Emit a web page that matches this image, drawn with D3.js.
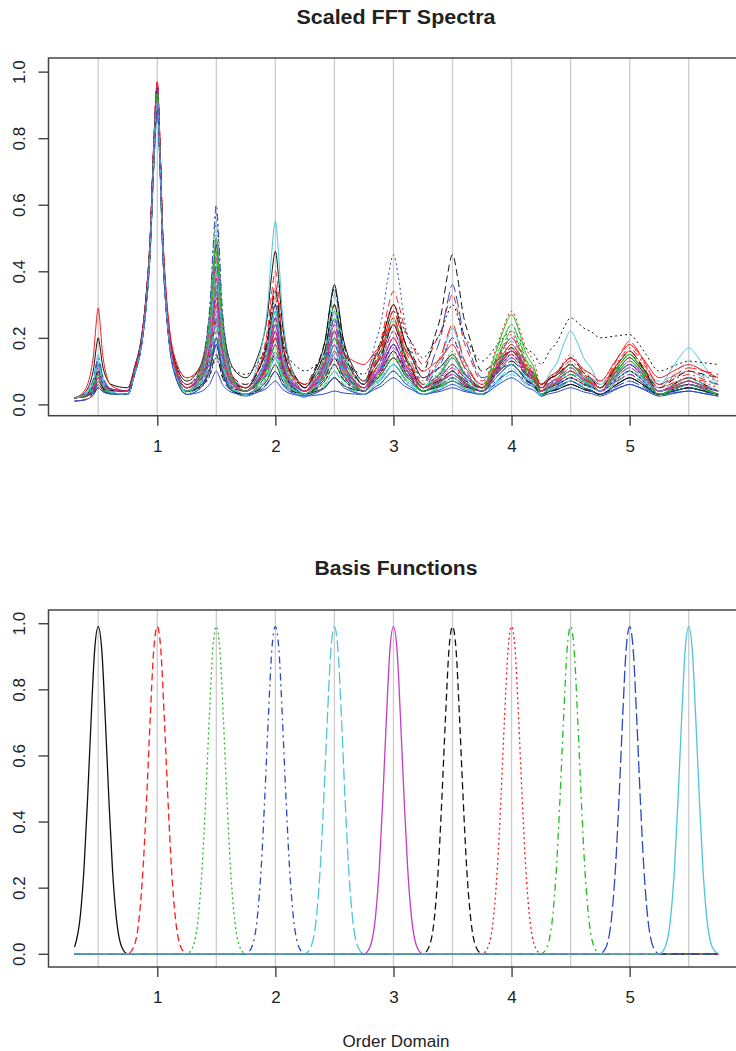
<!DOCTYPE html>
<html>
<head>
<meta charset="utf-8">
<script src="https://cdn.jsdelivr.net/npm/d3@7"></script>
<style>
  body { margin: 0; background: #fff; }
  text { font-family: "Liberation Sans", Arial, sans-serif; fill: #222; }
</style>
</head>
<body>
<svg id="chart" width="736" height="1051"></svg>
<script>
// orders where the peaks / basis functions sit, and the troughs between them
const orders = [0.5, 1, 1.5, 2, 2.5, 3, 3.5, 4, 4.5, 5, 5.5];
const troughOrders = [0.3, 0.75, 1.25, 1.75, 2.25, 2.75, 3.25, 3.75, 4.25, 4.75, 5.25, 5.75];
const xTicks = [1, 2, 3, 4, 5];
const yTicks = [0, 0.2, 0.4, 0.6, 0.8, 1];

// peak half widths (left / right)
const peakWidthLeft  = [0.038, 0.06, 0.05, 0.066, 0.072, 0.1, 0.094, 0.13, 0.11, 0.13, 0.13];
const peakWidthRight = [0.033, 0.046, 0.045, 0.056, 0.066, 0.094, 0.088, 0.12, 0.11, 0.13, 0.13];
// normalised peak profile (distance in half widths -> fraction of peak above the trough)
const peakShapeU = [0, 0.5, 1, 1.6, 2.3, 3.2];
const peakShapeF = [1, 0.8, 0.5, 0.3, 0.16, 0.07];

// peak height of each spectrum at each order
const spectraPeaks = [
  [0.20, 0.95, 0.48, 0.46, 0.36, 0.30, 0.15, 0.16, 0.12, 0.14, 0.06],
  [0.08, 0.97, 0.50, 0.40, 0.30, 0.34, 0.33, 0.20, 0.12, 0.16, 0.08],
  [0.12, 0.93, 0.55, 0.25, 0.28, 0.22, 0.12, 0.24, 0.10, 0.12, 0.07],
  [0.10, 0.96, 0.60, 0.30, 0.22, 0.20, 0.10, 0.14, 0.08, 0.10, 0.05],
  [0.15, 0.90, 0.42, 0.35, 0.33, 0.25, 0.12, 0.13, 0.10, 0.12, 0.10],
  [0.09, 0.92, 0.38, 0.22, 0.20, 0.18, 0.14, 0.18, 0.12, 0.10, 0.06],
  [0.06, 0.94, 0.35, 0.30, 0.35, 0.28, 0.45, 0.16, 0.12, 0.15, 0.10],
  [0.11, 0.95, 0.44, 0.32, 0.25, 0.30, 0.20, 0.28, 0.14, 0.18, 0.10],
  [0.07, 0.90, 0.30, 0.20, 0.18, 0.15, 0.10, 0.20, 0.08, 0.14, 0.06],
  [0.05, 0.93, 0.25, 0.18, 0.15, 0.24, 0.36, 0.12, 0.07, 0.08, 0.05],
  [0.06, 0.88, 0.28, 0.55, 0.26, 0.20, 0.23, 0.14, 0.22, 0.12, 0.17],
  [0.10, 0.91, 0.33, 0.26, 0.22, 0.20, 0.12, 0.17, 0.11, 0.11, 0.07],
  [0.09, 0.89, 0.32, 0.30, 0.20, 0.30, 0.30, 0.22, 0.26, 0.21, 0.13],
  [0.06, 0.96, 0.46, 0.20, 0.24, 0.22, 0.10, 0.15, 0.13, 0.17, 0.09],
  [0.08, 0.92, 0.40, 0.24, 0.30, 0.16, 0.14, 0.22, 0.10, 0.15, 0.07],
  [0.12, 0.94, 0.10, 0.07, 0.04, 0.08, 0.06, 0.10, 0.07, 0.06, 0.04],
  [0.14, 0.87, 0.36, 0.20, 0.18, 0.14, 0.09, 0.12, 0.09, 0.10, 0.13],
  [0.07, 0.93, 0.28, 0.18, 0.16, 0.22, 0.16, 0.20, 0.15, 0.13, 0.08],
  [0.13, 0.96, 0.20, 0.15, 0.12, 0.18, 0.08, 0.17, 0.10, 0.12, 0.06],
  [0.10, 0.91, 0.30, 0.36, 0.16, 0.28, 0.24, 0.18, 0.10, 0.19, 0.11],
  [0.10, 0.94, 0.50, 0.28, 0.22, 0.26, 0.15, 0.27, 0.12, 0.15, 0.08],
  [0.08, 0.90, 0.42, 0.24, 0.26, 0.18, 0.20, 0.12, 0.08, 0.10, 0.06],
  [0.11, 0.95, 0.52, 0.30, 0.24, 0.16, 0.12, 0.10, 0.09, 0.08, 0.06],
  [0.12, 0.90, 0.36, 0.20, 0.20, 0.17, 0.11, 0.20, 0.12, 0.12, 0.07],
  [0.05, 0.92, 0.26, 0.34, 0.30, 0.24, 0.10, 0.13, 0.14, 0.16, 0.08],
  [0.29, 0.97, 0.38, 0.26, 0.20, 0.24, 0.18, 0.16, 0.14, 0.18, 0.12],
  [0.06, 0.88, 0.22, 0.14, 0.10, 0.12, 0.07, 0.16, 0.07, 0.09, 0.05],
  [0.10, 0.95, 0.58, 0.30, 0.28, 0.45, 0.14, 0.16, 0.08, 0.12, 0.06],
  [0.09, 0.93, 0.30, 0.16, 0.12, 0.10, 0.08, 0.11, 0.06, 0.07, 0.05],
  [0.07, 0.89, 0.44, 0.22, 0.18, 0.20, 0.09, 0.15, 0.10, 0.13, 0.07],
  [0.08, 0.93, 0.18, 0.12, 0.08, 0.14, 0.07, 0.12, 0.06, 0.08, 0.05],
  [0.10, 0.95, 0.40, 0.20, 0.16, 0.16, 0.09, 0.14, 0.09, 0.11, 0.06],
  [0.06, 0.90, 0.24, 0.12, 0.14, 0.10, 0.07, 0.18, 0.07, 0.12, 0.06],
  [0.14, 0.92, 0.34, 0.26, 0.18, 0.14, 0.10, 0.10, 0.09, 0.09, 0.06],
  [0.08, 0.91, 0.20, 0.14, 0.10, 0.12, 0.07, 0.09, 0.08, 0.10, 0.07],
  [0.11, 0.96, 0.30, 0.24, 0.22, 0.16, 0.10, 0.16, 0.10, 0.12, 0.07],
  [0.07, 0.93, 0.15, 0.10, 0.14, 0.12, 0.08, 0.12, 0.06, 0.08, 0.05],
  [0.09, 0.94, 0.26, 0.18, 0.22, 0.20, 0.12, 0.21, 0.10, 0.16, 0.08],
  [0.10, 0.90, 0.36, 0.16, 0.12, 0.12, 0.08, 0.19, 0.09, 0.10, 0.06],
  [0.06, 0.89, 0.18, 0.22, 0.20, 0.18, 0.10, 0.10, 0.07, 0.07, 0.05],
  [0.12, 0.92, 0.40, 0.28, 0.16, 0.12, 0.14, 0.12, 0.10, 0.10, 0.06],
  [0.08, 0.93, 0.24, 0.16, 0.24, 0.14, 0.09, 0.14, 0.08, 0.09, 0.06],
  [0.10, 0.95, 0.14, 0.20, 0.12, 0.16, 0.10, 0.15, 0.08, 0.10, 0.06],
  [0.07, 0.91, 0.32, 0.22, 0.14, 0.26, 0.12, 0.17, 0.10, 0.14, 0.07],
  [0.09, 0.94, 0.46, 0.18, 0.20, 0.14, 0.10, 0.24, 0.11, 0.13, 0.06],
  [0.05, 0.90, 0.20, 0.10, 0.08, 0.10, 0.05, 0.08, 0.05, 0.06, 0.04],
  [0.13, 0.91, 0.26, 0.14, 0.20, 0.12, 0.08, 0.10, 0.07, 0.11, 0.08],
  [0.09, 0.92, 0.34, 0.20, 0.14, 0.18, 0.11, 0.16, 0.11, 0.11, 0.06]
];

// trough level of each spectrum between the peaks
const spectraTroughs = [
  [0.02, 0.05, 0.07, 0.08, 0.05, 0.07, 0.08, 0.05, 0.06, 0.04, 0.04, 0.03],
  [0.02, 0.04, 0.06, 0.05, 0.05, 0.06, 0.12, 0.07, 0.06, 0.06, 0.05, 0.06],
  [0.02, 0.04, 0.05, 0.04, 0.04, 0.05, 0.06, 0.05, 0.04, 0.05, 0.04, 0.04],
  [0.02, 0.03, 0.04, 0.04, 0.03, 0.04, 0.05, 0.04, 0.04, 0.04, 0.03, 0.03],
  [0.02, 0.04, 0.05, 0.05, 0.04, 0.05, 0.05, 0.05, 0.04, 0.05, 0.07, 0.06],
  [0.02, 0.03, 0.05, 0.04, 0.04, 0.05, 0.05, 0.05, 0.04, 0.04, 0.04, 0.04],
  [0.02, 0.04, 0.06, 0.06, 0.06, 0.06, 0.10, 0.10, 0.06, 0.05, 0.05, 0.08],
  [0.02, 0.04, 0.06, 0.05, 0.05, 0.06, 0.07, 0.06, 0.06, 0.07, 0.06, 0.07],
  [0.02, 0.03, 0.04, 0.04, 0.03, 0.04, 0.04, 0.04, 0.03, 0.04, 0.03, 0.03],
  [0.01, 0.03, 0.04, 0.03, 0.03, 0.04, 0.06, 0.08, 0.04, 0.03, 0.03, 0.03],
  [0.02, 0.03, 0.04, 0.04, 0.03, 0.04, 0.05, 0.05, 0.04, 0.06, 0.06, 0.06],
  [0.02, 0.04, 0.05, 0.05, 0.04, 0.05, 0.05, 0.05, 0.05, 0.05, 0.04, 0.04],
  [0.02, 0.04, 0.08, 0.09, 0.10, 0.09, 0.14, 0.13, 0.12, 0.20, 0.10, 0.12],
  [0.01, 0.04, 0.05, 0.04, 0.04, 0.05, 0.05, 0.05, 0.05, 0.05, 0.06, 0.06],
  [0.02, 0.03, 0.04, 0.04, 0.03, 0.04, 0.04, 0.04, 0.03, 0.04, 0.03, 0.03],
  [0.02, 0.03, 0.03, 0.03, 0.025, 0.03, 0.03, 0.03, 0.03, 0.03, 0.03, 0.025],
  [0.02, 0.04, 0.04, 0.04, 0.03, 0.04, 0.04, 0.04, 0.04, 0.07, 0.05, 0.05],
  [0.02, 0.03, 0.04, 0.04, 0.04, 0.05, 0.05, 0.05, 0.05, 0.05, 0.04, 0.04],
  [0.02, 0.04, 0.04, 0.04, 0.03, 0.04, 0.04, 0.04, 0.04, 0.04, 0.03, 0.03],
  [0.02, 0.04, 0.05, 0.05, 0.04, 0.05, 0.06, 0.05, 0.05, 0.05, 0.06, 0.09],
  [0.02, 0.04, 0.05, 0.04, 0.04, 0.05, 0.05, 0.05, 0.04, 0.05, 0.04, 0.04],
  [0.02, 0.03, 0.04, 0.04, 0.03, 0.04, 0.05, 0.04, 0.04, 0.04, 0.03, 0.03],
  [0.02, 0.03, 0.04, 0.04, 0.03, 0.04, 0.04, 0.04, 0.04, 0.04, 0.03, 0.03],
  [0.02, 0.04, 0.05, 0.04, 0.04, 0.05, 0.05, 0.05, 0.04, 0.04, 0.04, 0.04],
  [0.02, 0.04, 0.05, 0.05, 0.05, 0.06, 0.05, 0.05, 0.05, 0.05, 0.04, 0.04],
  [0.02, 0.04, 0.08, 0.05, 0.06, 0.12, 0.10, 0.06, 0.06, 0.07, 0.08, 0.08],
  [0.02, 0.03, 0.035, 0.03, 0.03, 0.03, 0.03, 0.03, 0.025, 0.03, 0.025, 0.025],
  [0.02, 0.04, 0.05, 0.04, 0.04, 0.06, 0.05, 0.05, 0.04, 0.04, 0.03, 0.03],
  [0.02, 0.03, 0.04, 0.03, 0.03, 0.03, 0.03, 0.03, 0.03, 0.03, 0.03, 0.03],
  [0.02, 0.04, 0.05, 0.04, 0.04, 0.04, 0.05, 0.04, 0.04, 0.04, 0.04, 0.04],
  [0.02, 0.03, 0.04, 0.03, 0.03, 0.04, 0.04, 0.04, 0.03, 0.03, 0.03, 0.03],
  [0.02, 0.04, 0.05, 0.04, 0.04, 0.04, 0.05, 0.04, 0.04, 0.04, 0.04, 0.04],
  [0.02, 0.03, 0.04, 0.03, 0.03, 0.03, 0.04, 0.03, 0.03, 0.03, 0.03, 0.03],
  [0.02, 0.04, 0.04, 0.04, 0.03, 0.04, 0.04, 0.04, 0.04, 0.04, 0.03, 0.03],
  [0.02, 0.03, 0.03, 0.03, 0.02, 0.03, 0.03, 0.03, 0.03, 0.04, 0.04, 0.04],
  [0.02, 0.04, 0.05, 0.04, 0.04, 0.05, 0.04, 0.04, 0.04, 0.04, 0.04, 0.04],
  [0.02, 0.04, 0.04, 0.03, 0.03, 0.04, 0.04, 0.04, 0.03, 0.03, 0.03, 0.03],
  [0.02, 0.04, 0.05, 0.04, 0.04, 0.05, 0.05, 0.05, 0.04, 0.05, 0.05, 0.05],
  [0.02, 0.03, 0.04, 0.03, 0.03, 0.04, 0.04, 0.04, 0.03, 0.04, 0.03, 0.03],
  [0.02, 0.03, 0.04, 0.04, 0.03, 0.04, 0.04, 0.03, 0.03, 0.03, 0.03, 0.03],
  [0.02, 0.03, 0.04, 0.04, 0.03, 0.04, 0.04, 0.04, 0.04, 0.04, 0.03, 0.04],
  [0.02, 0.04, 0.04, 0.04, 0.04, 0.04, 0.04, 0.04, 0.04, 0.04, 0.03, 0.03],
  [0.02, 0.04, 0.04, 0.04, 0.03, 0.04, 0.04, 0.04, 0.04, 0.04, 0.03, 0.04],
  [0.02, 0.04, 0.05, 0.04, 0.04, 0.05, 0.05, 0.05, 0.04, 0.05, 0.04, 0.04],
  [0.02, 0.03, 0.04, 0.04, 0.03, 0.04, 0.04, 0.04, 0.03, 0.04, 0.03, 0.03],
  [0.01, 0.03, 0.03, 0.025, 0.025, 0.03, 0.03, 0.03, 0.025, 0.025, 0.025, 0.025],
  [0.02, 0.03, 0.04, 0.03, 0.03, 0.03, 0.03, 0.03, 0.03, 0.04, 0.04, 0.04],
  [0.02, 0.04, 0.05, 0.04, 0.04, 0.04, 0.05, 0.04, 0.04, 0.04, 0.04, 0.04]
];

// basis function profile (offset from its centre -> value)
const basisOffsets = [-0.25, -0.2, -0.15, -0.12, -0.09, -0.06, -0.03, 0, 0.03, 0.06, 0.09, 0.12, 0.15, 0.2, 0.25];
const basisProfile = [0, 0.02, 0.12, 0.26, 0.47, 0.71, 0.92, 0.99, 0.92, 0.71, 0.47, 0.26, 0.12, 0.02, 0];
const orderRange = [0.3, 5.75];

// matplot style cycling
const palette = ["#111111", "#ff1a1a", "#1fbf1f", "#2a48c4", "#4cc6de", "#c43cc4"];
const dashes = [null, "7,4", "2,3", "2,4,7,4", "12,4"];

const svg = d3.select("#chart");
const left = 48.5, right = 743.5;

const x = d3.scaleLinear().domain([0.079, 5.964]).range([left, right]);

function panel(y0, y1, yDomain, title, titleY, titleLen) {
  const y = d3.scaleLinear().domain(yDomain).range([y1, y0]);
  const g = svg.append("g");

  // grid lines at every half order
  g.append("g").selectAll("line")
    .data(orders)
    .join("line")
    .attr("x1", d => x(d)).attr("x2", d => x(d))
    .attr("y1", y0).attr("y2", y1)
    .attr("stroke", "#cccccc")
    .attr("stroke-width", 1.3);

  const axisX = g.append("g")
    .attr("transform", `translate(0,${y1})`)
    .call(d3.axisBottom(x).tickValues(xTicks).tickSize(10).tickPadding(14).tickFormat(d3.format("d")));
  axisX.select(".domain").remove();
  axisX.selectAll("line").attr("stroke", "#444").attr("stroke-width", 1.4);
  axisX.selectAll("text").attr("font-size", 17).attr("fill", "#222")
    .attr("font-family", "Liberation Sans, Arial, sans-serif");

  const axisY = g.append("g")
    .attr("transform", `translate(${left},0)`)
    .call(d3.axisLeft(y).tickValues(yTicks).tickSize(10).tickFormat(d3.format(".1f")));
  axisY.select(".domain").remove();
  axisY.selectAll("line").attr("stroke", "#444").attr("stroke-width", 1.4);
  axisY.selectAll("text")
    .attr("transform", "rotate(-90)")
    .attr("x", 0).attr("y", -(left - 25)).attr("dy", 0)
    .attr("text-anchor", "middle")
    .attr("font-size", 17).attr("fill", "#222")
    .attr("font-family", "Liberation Sans, Arial, sans-serif");

  g.append("text")
    .attr("x", (left + right) / 2).attr("y", titleY)
    .attr("text-anchor", "middle")
    .attr("font-size", 20).attr("font-weight", "bold")
    .attr("fill", "#000")
    .attr("textLength", titleLen).attr("lengthAdjust", "spacingAndGlyphs")
    .text(title);

  return { g, y, y0, y1 };
}

function drawBox(p) {
  p.g.append("rect")
    .attr("x", left).attr("y", p.y0)
    .attr("width", right - left).attr("height", p.y1 - p.y0)
    .attr("fill", "none").attr("stroke", "#444").attr("stroke-width", 1.5);
}

// ---------- upper panel: scaled FFT spectra ----------
const spectraPanel = panel(58, 415.7, [-0.034, 1.041], "Scaled FFT Spectra", 24, 199);

function spectrumPoints(peaks, troughs) {
  const pts = [];
  orders.forEach((c, i) => {
    pts.push([troughOrders[i], troughs[i]]);
    for (let k = peakShapeU.length - 1; k >= 1; k--) {
      const d = peakShapeU[k] * peakWidthLeft[i];
      if (d < 0.2) pts.push([c - d, troughs[i] + (peaks[i] - troughs[i]) * peakShapeF[k]]);
    }
    pts.push([c, peaks[i]]);
    for (let k = 1; k < peakShapeU.length; k++) {
      const d = peakShapeU[k] * peakWidthRight[i];
      if (d < 0.2) pts.push([c + d, troughs[i + 1] + (peaks[i] - troughs[i + 1]) * peakShapeF[k]]);
    }
  });
  pts.push([troughOrders[troughOrders.length - 1], troughs[troughs.length - 1]]);
  return pts;
}

const spectraLine = d3.line()
  .x(d => x(d[0]))
  .y(d => spectraPanel.y(d[1]))
  .curve(d3.curveMonotoneX);

spectraPanel.g.append("g").selectAll("path")
  .data(spectraPeaks.map((p, i) => spectrumPoints(p, spectraTroughs[i])))
  .join("path")
  .attr("d", spectraLine)
  .attr("fill", "none")
  .attr("stroke", (d, i) => palette[i % 6])
  .attr("stroke-width", 1)
  .attr("stroke-dasharray", (d, i) => dashes[i % 5]);

drawBox(spectraPanel);

// ---------- lower panel: basis functions ----------
const basisPanel = panel(610, 967, [-0.04, 1.04], "Basis Functions", 575, 163);

function basisPoints(c) {
  const pts = basisOffsets.map((o, k) => [c + o, basisProfile[k]])
    .filter(p => p[0] >= orderRange[0] - 1e-9 && p[0] <= orderRange[1] + 1e-9);
  if (pts[0][0] > orderRange[0] + 1e-9) pts.unshift([orderRange[0], 0]);
  if (pts[pts.length - 1][0] < orderRange[1] - 1e-9) pts.push([orderRange[1], 0]);
  return pts;
}

const basisLine = d3.line()
  .x(d => x(d[0]))
  .y(d => basisPanel.y(d[1]))
  .curve(d3.curveMonotoneX);

basisPanel.g.append("g").selectAll("path")
  .data(orders.map(basisPoints))
  .join("path")
  .attr("d", basisLine)
  .attr("fill", "none")
  .attr("stroke", (d, i) => palette[i % 6])
  .attr("stroke-width", 1.3)
  .attr("stroke-dasharray", (d, i) => dashes[i % 5]);

drawBox(basisPanel);

svg.append("text")
  .attr("x", (left + right) / 2).attr("y", 1047)
  .attr("text-anchor", "middle")
  .attr("font-size", 17)
  .text("Order Domain");
</script>
</body>
</html>
